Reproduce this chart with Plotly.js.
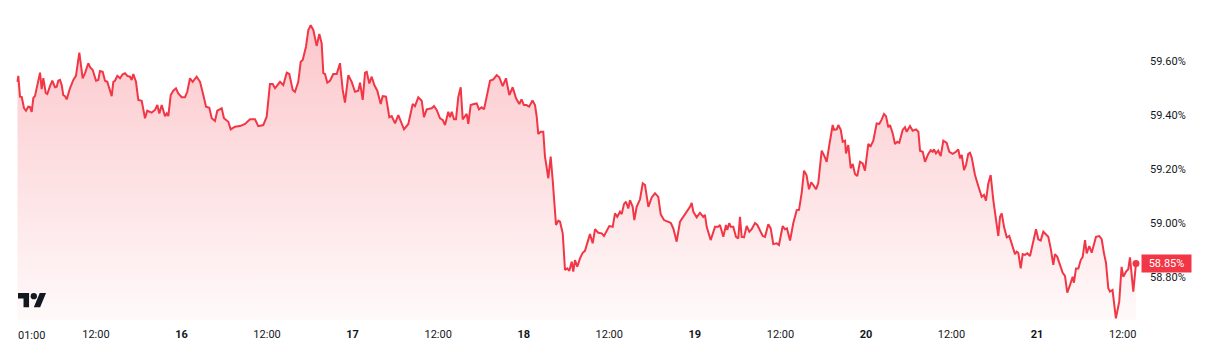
<!DOCTYPE html>
<html>
<head>
<meta charset="utf-8">
<script src="https://cdn.plot.ly/plotly-3.0.1.min.js"></script>
<style>
  html, body { margin: 0; padding: 0; background: #ffffff; }
  #chart { width: 1210px; height: 362px; }
</style>
</head>
<body>
<div id="chart"></div>
<script>
// ---- DATA ----
// hours elapsed since the first point (15th, 01:00)
const START_UTC = Date.UTC(2025, 8, 15, 1, 0);
const hoursFromStart = [
0,0.11,0.35,0.59,0.91,1.19,1.51,1.75,1.99,2.22,2.45,2.78,3.16,3.39,3.62,3.96,4.18,4.56,4.88,5.26,5.50,5.72,5.96,6.20,6.42,6.66,6.90,7.36,7.83,8.20,8.67,9.14,9.47,9.93,10.17,10.55,11.01,11.33,11.57,11.95,12.27,12.59,13.21,13.44,13.67,14.00,14.38,14.75,15.08,15.40,15.78,16.02,16.24,16.62,16.94,17.42,17.88,18.20,18.82,19.28,19.61,19.89,20.22,20.69,20.93,21.15,21.49,21.85,22.23,22.55,23.03,23.49,23.81,24.19,24.57,25.13,25.60,26.06,26.44,26.90,27.24,27.70,28.02,28.64,28.96,29.57,29.90,30.50,31.21,31.91,32.61,33.31,33.77,34.47,34.95,35.41,35.79,36.12,36.82,
37.28,37.76,38.12,38.60,38.92,39.38,39.72,40.00,40.46,40.79,41.12,41.49,41.96,42.33,42.66,42.89,43.13,43.45,43.83,44.29,44.77,45.23,45.61,45.93,46.40,46.87,47.34,47.80,48.04,48.42,48.74,48.98,49.34,49.68,50.04,50.46,50.94,51.22,51.68,52.15,52.48,52.95,53.41,53.74,54.21,54.81,55.43,55.75,56.21,56.69,57.01,57.39,58.09,58.42,58.79,59.26,59.64,59.96,60.42,60.66,60.90,61.22,61.50,61.82,62.16,62.44,62.76,63.00,63.23,63.56,64.03,64.40,64.73,65.10,65.43,65.81,66.27,66.73,67.21,67.57,68.05,68.51,68.98,69.45,69.92,70.38,
70.69,71.02,71.39,71.76,72.23,72.58,72.82,73.04,73.38,73.74,73.98,74.45,74.78,75.06,75.53,75.85,76.09,76.47,76.79,77.11,77.39,77.73,77.95,78.19,78.51,78.89,79.27,79.59,79.92,80.29,80.67,81.00,81.46,81.94,82.26,82.64,83.00,83.48,83.80,84.12,84.50,84.74,85.06,85.34,85.67,85.90,86.28,86.51,86.84,87.31,87.69,88.01,88.48,88.95,89.41,89.87,90.21,90.67,91.14,91.61,91.98,92.45,92.92,93.38,93.86,94.32,94.56,94.78,95.26,95.72,96.19,96.42,96.66,97.22,97.83,98.29,98.53,98.99,99.37,99.55,99.83,100.03,100.39,100.77,101.09,101.33,101.57,101.89,102.27,102.64,102.97,103.44,103.76,104.14,104.52,104.84,105.30,105.64,106.00,106.48,106.80,107.32,107.64,107.92,108.35,108.81,109.29,109.61,109.99,110.31,110.66,111.01,111.32,111.61,111.99,112.31,
112.79,113.25,113.49,113.86,114.33,114.52,114.90,115.12,115.46,115.74,116.06,116.20,116.52,116.86,117.14,117.46,117.78,118.16,118.54,118.86,119.33,119.66,120.03,120.50,120.87,121.21,121.53,121.81,122.13,122.37,122.75,123.07,123.39,123.67,124.15,124.47,124.71,125.18,125.55,126.02,126.35,126.58,126.96,127.28,127.74,128.08,128.36,128.54,128.82,129.14,129.48,129.85,130.32,130.69,131.16,131.63,131.95,132.19,132.43,132.75,133.03,133.35,133.59,133.83,134.29,134.75,135.23,135.55,135.83,136.16,136.49,136.86,137.24,137.56,137.80,138.04,138.36,138.74,139.10,139.58,139.90,140.14,140.36,140.70,140.98,141.30,141.63,142.01,142.47,142.85,143.17,143.51,143.87,144.25,144.57,144.91,145.27,145.51,145.83,146.21,146.59,146.91,147.23,147.61,147.99,148.17,148.46,148.79,149.12,149.40,149.72,149.96,150.32,150.66,150.88,151.26,151.72,152.06,152.38,152.66,152.99,153.23,153.58,154.05,154.52,154.85,155.09,155.47,155.79,156.03,156.49,156.87
];
// value in percent
const dominance = [
59.523,59.545,59.468,59.467,59.426,59.416,59.431,59.430,59.412,59.463,59.470,59.511,59.557,59.496,59.537,59.482,59.478,59.507,59.527,59.503,59.505,59.527,59.530,59.511,59.474,59.470,59.458,59.499,59.530,59.545,59.631,59.536,59.555,59.592,59.577,59.567,59.527,59.530,59.563,59.560,59.527,59.523,59.470,59.523,59.527,59.545,59.536,59.551,59.555,59.545,59.542,59.530,59.552,59.523,59.456,59.453,59.388,59.416,59.409,59.419,59.437,59.406,59.437,59.396,59.406,59.396,59.474,59.490,59.499,59.480,59.466,59.466,59.486,59.536,59.523,59.542,59.523,59.474,59.431,59.427,59.388,59.378,59.416,59.425,59.388,59.375,59.347,59.357,59.359,59.367,59.384,59.384,59.359,59.363,59.394,59.515,59.515,59.499,59.523,
59.511,59.557,59.552,59.493,59.486,59.523,59.597,59.604,59.653,59.715,59.733,59.715,59.656,59.700,59.666,59.555,59.552,59.520,59.527,59.552,59.552,59.592,59.493,59.446,59.548,59.523,59.486,59.490,59.520,59.456,59.557,59.560,59.517,59.542,59.511,59.490,59.441,59.470,59.468,59.392,59.396,59.369,59.400,59.375,59.347,59.367,59.441,59.433,59.466,59.453,59.392,59.421,59.425,59.433,59.419,59.388,59.382,59.363,59.412,59.392,59.412,59.384,59.384,59.466,59.503,59.384,59.396,59.404,59.367,59.437,59.441,59.443,59.421,59.429,59.421,59.468,59.527,59.532,59.548,59.540,59.507,59.536,59.474,59.503,59.462,59.441,
59.458,59.437,59.437,59.431,59.454,59.437,59.394,59.330,59.338,59.338,59.246,59.166,59.246,59.159,58.993,59.009,59.005,58.962,58.826,58.832,58.823,58.857,58.820,58.863,58.838,58.869,58.890,58.897,58.927,58.959,58.925,58.977,58.964,58.962,58.952,58.974,58.989,58.986,59.036,59.023,59.042,59.033,59.070,59.079,59.054,59.085,59.060,59.011,59.060,59.088,59.147,59.141,59.060,59.095,59.110,59.097,59.033,59.011,59.005,59.001,58.980,58.931,59.005,59.023,59.042,59.060,59.075,59.042,59.021,59.038,59.023,59.030,58.986,58.937,58.986,58.986,58.993,58.949,58.993,58.974,59.000,58.986,58.986,58.949,58.943,59.023,58.949,58.947,58.989,58.968,58.977,59.000,58.993,58.974,58.952,58.949,58.996,58.980,58.922,58.925,58.919,58.989,58.977,58.980,58.935,59.000,59.048,59.049,59.113,59.194,59.178,59.125,59.151,59.141,59.125,59.148,
59.268,59.243,59.227,59.289,59.363,59.345,59.347,59.363,59.345,59.301,59.305,59.258,59.289,59.203,59.219,59.182,59.174,59.227,59.221,59.194,59.293,59.285,59.305,59.369,59.367,59.384,59.404,59.396,59.355,59.363,59.332,59.293,59.301,59.297,59.345,59.355,59.338,59.359,59.342,59.347,59.338,59.268,59.264,59.227,59.256,59.270,59.264,59.273,59.258,59.268,59.248,59.305,59.297,59.264,59.256,59.264,59.273,59.240,59.252,59.196,59.215,59.256,59.260,59.243,59.178,59.137,59.097,59.104,59.083,59.147,59.178,59.085,59.017,58.952,59.023,59.036,58.986,58.947,58.952,58.912,58.885,58.894,58.890,58.832,58.885,58.882,58.888,58.878,58.935,58.977,58.940,58.935,58.968,58.959,58.949,58.906,58.845,58.885,58.875,58.845,58.816,58.804,58.742,58.770,58.801,58.779,58.832,58.832,58.863,58.875,58.937,58.888,58.915,58.890,58.915,58.949,58.952,58.940,58.888,58.853,58.758,58.746,58.752,58.647,58.709,58.838,58.801,58.820,58.829,58.873,58.746,58.850
];
const xTickTimes = ['2025-09-15 12:00','2025-09-16 00:00','2025-09-16 12:00','2025-09-17 00:00','2025-09-17 12:00','2025-09-18 00:00','2025-09-18 12:00','2025-09-19 00:00','2025-09-19 12:00','2025-09-20 00:00','2025-09-20 12:00','2025-09-21 00:00','2025-09-21 12:00'];
const xTickLabels = ['12:00','<b>16</b>','12:00','<b>17</b>','12:00','<b>18</b>','12:00','<b>19</b>','12:00','<b>20</b>','12:00','<b>21</b>','12:00'];
const firstTickLabel = '01:00';
const yTicks = [58.8, 59.0, 59.2, 59.4, 59.6];

// ---- BUILD ----
function hToDate(h) {
  const d = new Date(START_UTC + h * 3600000);
  return d.toISOString().slice(0, 19).replace('T', ' ');
}
const times = hoursFromStart.map(hToDate);
const n = times.length;
const lastTime = times[n - 1];
const lastVal = dominance[n - 1];

const RED = '#F23645';
const TXT = '#131722';
const FONT = 'Roboto, "Liberation Sans", Arial, sans-serif';

const Y_MIN = 58.641, Y_MAX = 59.826;

const traces = [
  {
    x: times, y: dominance, type: 'scatter', mode: 'lines',
    line: { color: RED, width: 2 },
    fill: 'tozeroy',
    fillgradient: {
      type: 'vertical',
      colorscale: [[0, 'rgba(242,54,69,0.03)'], [1, 'rgba(242,54,69,0.28)']],
      start: Y_MIN, stop: 59.74
    },
    hoverinfo: 'skip'
  },
  {
    x: [lastTime], y: [lastVal], type: 'scatter', mode: 'markers',
    marker: { color: RED, size: 7 }, hoverinfo: 'skip'
  }
];

// plot area geometry for logo (paper coords)
const PW = 1141, PH = 320;
const px = v => v / PW, py = v => 1 - v / PH;
const s = 0.79, lx = 18, ly = 293;
const L = (a, b) => px(lx + a * s).toFixed(5) + ',' + py(ly + (b - 4) * s).toFixed(5);

const layout = {
  width: 1210, height: 362,
  margin: { l: 0, r: 1210 - PW, t: 0, b: 362 - PH },
  paper_bgcolor: '#ffffff', plot_bgcolor: '#ffffff',
  showlegend: false,
  hovermode: false,
  font: { family: FONT, color: TXT, size: 11 },
  xaxis: {
    type: 'date',
    range: [hToDate(-17.5 / 7.13), hToDate((PW - 17.5) / 7.13)],
    tickvals: xTickTimes, ticktext: xTickLabels,
    showgrid: false, zeroline: false, showline: false, ticks: '',
    tickfont: { family: FONT, size: 11, color: TXT },
    ticklabelstandoff: 6,
    fixedrange: true
  },
  yaxis: {
    side: 'right',
    range: [Y_MIN, Y_MAX],
    tickvals: yTicks, ticktext: yTicks.map(v => v.toFixed(2) + '%'),
    showgrid: false, zeroline: false, showline: false, ticks: '',
    tickfont: { family: FONT, size: 11, color: TXT },
    ticklabelstandoff: 8,
    fixedrange: true
  },
  annotations: [
    {
      x: times[0], xref: 'x', y: 0, yref: 'paper', yanchor: 'middle',
      yshift: -15, xshift: 14,
      text: firstTickLabel, showarrow: false,
      font: { family: FONT, size: 11, color: TXT }
    },
    {
      x: 1, xref: 'paper', xanchor: 'left', y: lastVal, yref: 'y', yanchor: 'middle',
      text: lastVal.toFixed(2) + '%', showarrow: false,
      bgcolor: RED, font: { family: FONT, size: 11, color: '#ffffff' },
      width: 45, height: 13, borderpad: 2
    }
  ],
  shapes: [
    { type: 'path', xref: 'paper', yref: 'paper', line: { width: 0 }, fillcolor: TXT,
      path: 'M' + L(0,4) + ' L' + L(14,4) + ' L' + L(14,22) + ' L' + L(7,22) + ' L' + L(7,11) + ' L' + L(0,11) + ' Z' },
    { type: 'path', xref: 'paper', yref: 'paper', line: { width: 0 }, fillcolor: TXT,
      path: 'M' + L(28,22) + ' L' + L(20,22) + ' L' + L(27.5,4) + ' L' + L(35.5,4) + ' Z' },
    { type: 'circle', xref: 'paper', yref: 'paper', line: { width: 0 }, fillcolor: TXT,
      x0: px(lx + 16 * s), x1: px(lx + 24 * s), y0: py(ly + 8 * s), y1: py(ly) }
  ]
};

Plotly.newPlot('chart', traces, layout, { staticPlot: true, displayModeBar: false });
</script>
</body>
</html>
